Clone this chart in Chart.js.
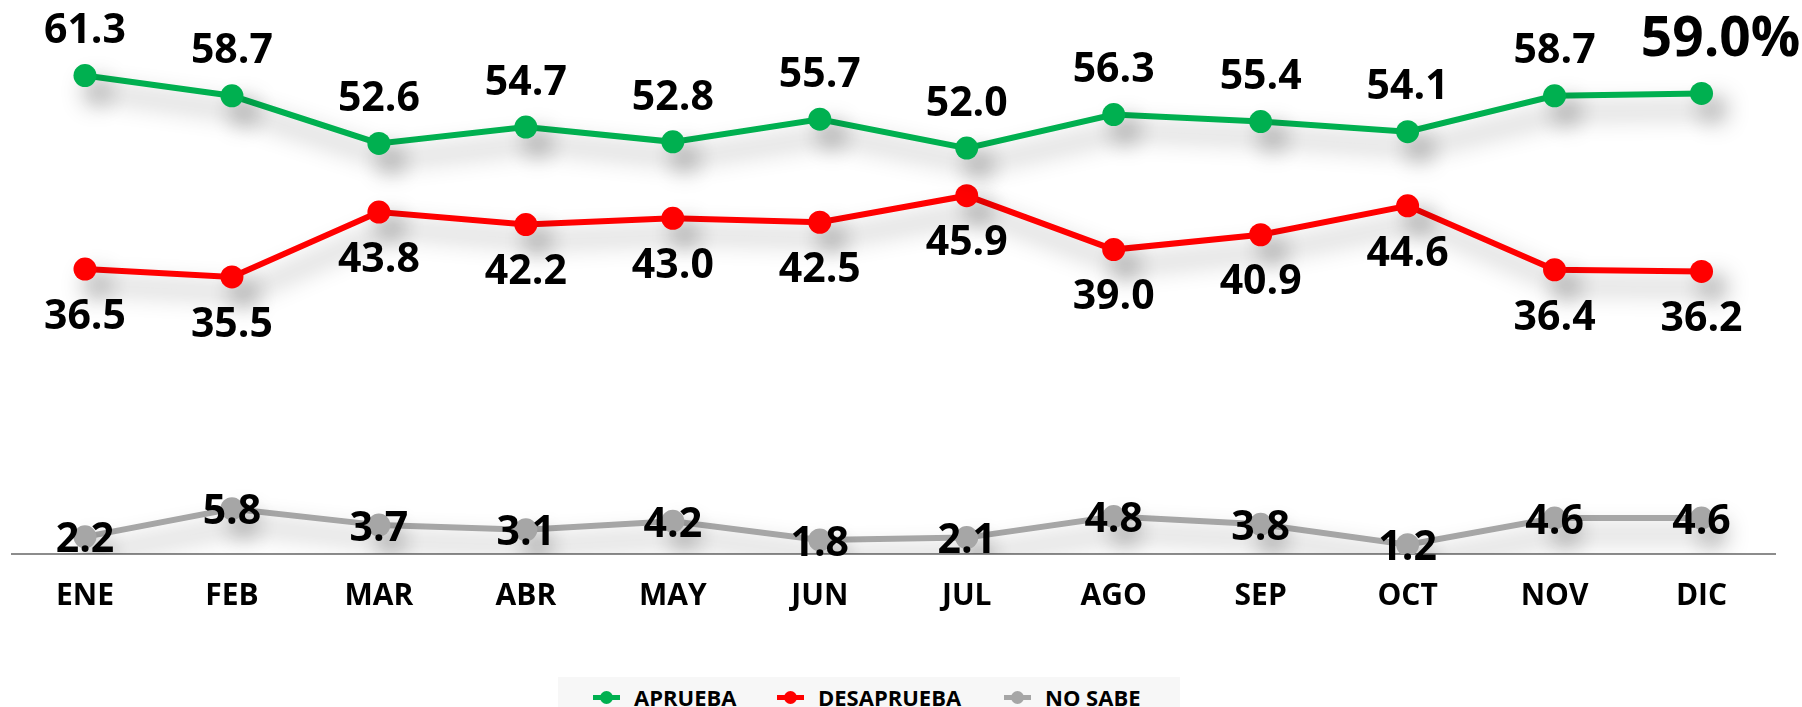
<!DOCTYPE html>
<html>
<head>
<meta charset="utf-8">
<script src="https://cdn.jsdelivr.net/npm/chart.js@4.4.1/dist/chart.umd.min.js"></script>
<style>
    body { margin: 0; background: #fff; font-family: "Open Sans", sans-serif; }
    .wrap { position: relative; width: 1802px; height: 707px; overflow: hidden; }
    .legend {
        position: absolute; left: 558px; top: 677px; width: 622px; height: 40px;
        background: #f7f7f7; font-weight: bold; font-size: 22px; color: #000;
    }
    .legend .item { position: absolute; top: 0; height: 40px; display: flex; align-items: center; gap: 14px; white-space: nowrap; }
    .legend .mk { position: relative; width: 27px; height: 5px; }
    .legend .mk::after {
        content: ''; position: absolute; left: 7px; top: -4px; width: 13px; height: 13px;
        border-radius: 50%; background: inherit;
    }
</style>
</head>
<body>
<div class="wrap">
    <canvas id="approvalChart" width="1802" height="707"></canvas>
    <div class="legend">
        <span class="item" style="left:35px"><span class="mk" style="background:#00b050"></span>APRUEBA</span>
        <span class="item" style="left:219px"><span class="mk" style="background:#ff0000"></span>DESAPRUEBA</span>
        <span class="item" style="left:446px"><span class="mk" style="background:#a6a6a6"></span>NO SABE</span>
    </div>
</div>
<script>
// ─── Data ───
const months = ['ENE', 'FEB', 'MAR', 'ABR', 'MAY', 'JUN', 'JUL', 'AGO', 'SEP', 'OCT', 'NOV', 'DIC'];
const aprueba = [61.3, 58.7, 52.6, 54.7, 52.8, 55.7, 52.0, 56.3, 55.4, 54.1, 58.7, 59.0];
const desaprueba = [36.5, 35.5, 43.8, 42.2, 43.0, 42.5, 45.9, 39.0, 40.9, 44.6, 36.4, 36.2];
const noSabe = [2.2, 5.8, 3.7, 3.1, 4.2, 1.8, 2.1, 4.8, 3.8, 1.2, 4.6, 4.6];

const FONT = '"Open Sans", Lato, sans-serif';

// ─── Soft drop shadow under each series ───
const shadowPlugin = {
    id: 'lineShadow',
    beforeDatasetDraw(chart) {
        const c = chart.ctx;
        c.save();
        c.shadowColor = 'rgba(0, 0, 0, 0.42)';
        c.shadowBlur = 24;
        c.shadowOffsetX = 12;
        c.shadowOffsetY = 16;
    },
    afterDatasetDraw(chart) {
        chart.ctx.restore();
    }
};

// ─── Value labels ───
const labelPlugin = {
    id: 'valueLabels',
    afterDatasetsDraw(chart) {
        const c = chart.ctx;
        c.save();
        c.fillStyle = '#000';
        c.textAlign = 'center';
        c.textBaseline = 'middle';
        chart.data.datasets.forEach((ds, i) => {
            const meta = chart.getDatasetMeta(i);
            meta.data.forEach((pt, j) => {
                let text = ds.data[j].toFixed(1);
                let size = 41, dx = 0, dy = ds.labelOffset;
                if (i === 0 && j === ds.data.length - 1) {
                    text += '%';
                    size = 55; dx = 19; dy = -53;
                }
                c.font = `bold ${size}px ${FONT}`;
                c.fillText(text, pt.x + dx, pt.y + dy);
            });
        });
        c.restore();
    }
};

const ctx = document.getElementById('approvalChart').getContext('2d');
new Chart(ctx, {
    type: 'line',
    data: {
        labels: months,
        datasets: [
            { label: 'APRUEBA', data: aprueba, borderColor: '#00b050', backgroundColor: '#00b050', labelOffset: -44 },
            { label: 'DESAPRUEBA', data: desaprueba, borderColor: '#ff0000', backgroundColor: '#ff0000', labelOffset: 48 },
            { label: 'NO SABE', data: noSabe, borderColor: '#a6a6a6', backgroundColor: '#a6a6a6', labelOffset: 4 }
        ].map(d => Object.assign(d, {
            borderWidth: 6,
            pointRadius: 11.5,
            pointBorderWidth: 0,
            tension: 0,
            fill: false
        }))
    },
    options: {
        responsive: false,
        animation: false,
        layout: { padding: { left: 9, right: 27, top: 8, bottom: 69 } },
        scales: {
            y: { display: false, min: 0, max: 69.5 },
            x: {
                offset: true,
                grid: { display: false, drawTicks: false },
                border: { display: true, color: '#8c8c8c', width: 2 },
                ticks: {
                    color: '#000',
                    padding: 24,
                    maxRotation: 0,
                    autoSkip: false,
                    font: { family: FONT, size: 30, weight: 'bold' }
                }
            }
        },
        plugins: {
            legend: { display: false },
            tooltip: { enabled: false }
        }
    },
    plugins: [shadowPlugin, labelPlugin]
});
</script>
</body>
</html>
